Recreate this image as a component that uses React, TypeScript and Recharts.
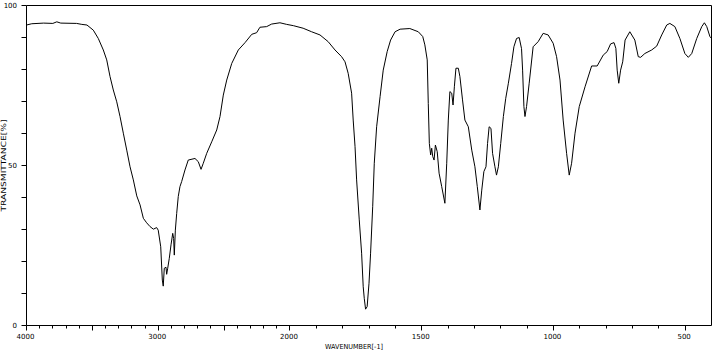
import React from 'react';
import { LineChart, Line, XAxis, YAxis, ReferenceLine } from 'recharts';

// Wavenumber (cm-1), descending
const wavenumbers = [
  4000, 3960, 3870, 3800, 3770, 3740, 3620, 3580, 3541, 3493,
  3455, 3417, 3391, 3366, 3341, 3315, 3290, 3265, 3239, 3214,
  3189, 3163, 3138, 3113, 3088, 3062, 3037, 3012, 3000, 2981,
  2969, 2962, 2954, 2941, 2936, 2928, 2916, 2903, 2890, 2883,
  2878, 2870, 2860, 2848, 2835, 2822, 2797, 2772, 2721, 2696,
  2675, 2658, 2632, 2594, 2556, 2531, 2506, 2480, 2442, 2392,
  2341, 2290, 2253, 2228, 2177, 2139, 2076, 2025, 1987, 1950,
  1918, 1886, 1855, 1829, 1804, 1791, 1779, 1766, 1760, 1753,
  1747, 1737, 1728, 1722, 1718, 1713, 1707, 1700, 1694, 1686,
  1680, 1671, 1658, 1646, 1631, 1618, 1601, 1582, 1545, 1513,
  1496, 1488, 1479, 1475, 1471, 1466, 1462, 1458, 1453, 1448,
  1441, 1434, 1424, 1412, 1405, 1399, 1393, 1386, 1381, 1376,
  1370, 1361, 1355, 1345, 1336, 1323, 1310, 1298, 1289, 1279,
  1272, 1264, 1256, 1250, 1244, 1237, 1231, 1222, 1216, 1209,
  1200, 1190, 1181, 1171, 1159, 1150, 1140, 1130, 1121, 1117,
  1112, 1108, 1102, 1092, 1077, 1058, 1039, 1020, 1001, 988,
  975, 963, 950, 940, 931, 918, 902, 880, 855, 834,
  811, 796, 783, 770, 763, 758, 752, 745, 737, 728,
  710, 691, 678, 669, 653, 627, 608, 589, 570, 558,
  539, 520, 501, 488, 475, 456, 437, 427, 418, 406,
  400,
];

// Transmittance (%)
const transmittance = [
  93.9, 94.3, 94.5, 94.4, 94.9, 94.5, 94.4, 94.1, 93.9, 92.3,
  89.7, 86.1, 83.0, 77.8, 73.6, 69.9, 65.3, 60.1, 54.8, 49.6,
  45.5, 40.5, 37.7, 33.5, 32.1, 30.9, 30.1, 30.6, 29.8, 24.6,
  14.2, 12.3, 17.9, 18.2, 16.0, 17.9, 21.0, 25.2, 28.8, 27.2,
  22.0, 29.8, 35.0, 40.3, 43.4, 45.0, 48.6, 51.7, 52.2, 51.2,
  48.8, 50.7, 53.8, 57.4, 61.1, 65.3, 72.0, 76.7, 81.9, 86.1,
  88.4, 91.0, 91.5, 93.2, 93.4, 94.2, 94.6, 94.1, 93.7, 92.9,
  91.8, 90.8, 88.7, 86.1, 84.0, 82.4, 78.8, 72.6, 64.2, 55.9,
  45.5, 33.0, 22.6, 12.1, 8.5, 5.1, 5.9, 13.2, 22.6, 37.1,
  50.7, 62.1, 71.5, 79.8, 85.6, 89.2, 91.8, 92.6, 92.8, 91.8,
  90.3, 87.7, 83.0, 69.4, 56.9, 53.3, 55.4, 52.8, 51.7, 56.4,
  54.3, 47.6, 43.4, 38.2, 50.7, 64.2, 73.1, 72.6, 68.9, 74.6,
  80.4, 80.4, 77.8, 70.5, 64.2, 62.1, 54.8, 49.6, 43.4, 36.1,
  42.3, 48.1, 49.6, 56.9, 62.1, 61.6, 53.8, 49.6, 47.0, 49.6,
  56.9, 65.3, 71.0, 75.7, 81.9, 87.1, 89.7, 90.0, 86.5, 79.8,
  68.4, 65.3, 68.4, 75.7, 87.1, 88.7, 91.3, 90.8, 88.2, 84.0,
  76.7, 64.2, 53.8, 47.0, 50.7, 60.1, 68.4, 74.6, 81.1, 81.1,
  84.5, 85.6, 88.0, 88.4, 86.6, 79.8, 75.7, 79.8, 82.4, 89.2,
  91.8, 89.2, 84.0, 83.8, 85.0, 86.1, 87.3, 90.8, 93.9, 94.4,
  93.4, 89.7, 85.0, 83.8, 85.0, 89.7, 93.4, 94.6, 93.4, 90.3,
  89.7,
];

const xTickWavenumbers = [
  4000, 3900, 3800, 3700, 3600, 3500, 3400, 3300, 3200, 3100,
  3000, 2900, 2800, 2700, 2600, 2500, 2400, 2300, 2200, 2100,
  2000, 1900, 1800, 1700, 1600, 1500, 1400, 1300, 1200, 1100,
  1000, 900, 800, 700, 600, 500,
];
const xLabelWavenumbers = [4000, 3000, 2000, 1500, 1000, 500];
const yTicks = [0, 10, 20, 30, 40, 50, 60, 70, 80, 90, 100];
const yLabels = [0, 50, 100];

const xTitle = 'WAVENUMBER[-1]';
const yTitle = 'TRANSMITTANCE[%]';

// the spectrum's axis is compressed by a factor 2 above 2000 cm-1
const toAxis = (w: number) => (w > 2000 ? 2000 + (w - 2000) / 2 : w);
const fromAxis = (u: number) => (u > 2000 ? 2000 + (u - 2000) * 2 : u);

const data = wavenumbers.map((w, i) => ({ u: toAxis(w), t: transmittance[i] }));
const xTicks = xTickWavenumbers.map(toAxis);

const FONT = 'DejaVu Sans, sans-serif';

const XTick = (props: any) => {
  const { x, y, payload } = props;
  const w = Math.round(fromAxis(payload.value));
  const major = w % 500 === 0;
  const px = Math.floor(x) + 0.5;
  return (
    <g>
      <line x1={px} x2={px} y1={y} y2={y + (major ? 5 : 3)} stroke="#000" strokeWidth={1} />
      {xLabelWavenumbers.includes(w) && (
        <text x={x - 1} y={y + 13.5} textAnchor="middle" fontSize={7} fontFamily={FONT} fill="#000">
          {w}
        </text>
      )}
    </g>
  );
};

const YTick = (props: any) => {
  const { x, y, payload } = props;
  const v = payload.value;
  return (
    <g>
      <line x1={x - 5} x2={x} y1={y} y2={y} stroke="#000" strokeWidth={1} />
      {yLabels.includes(v) && (
        <text x={x - 9.5} y={y + 2.5} textAnchor="end" fontSize={7} fontFamily={FONT} fill="#000">
          {v}
        </text>
      )}
    </g>
  );
};

const renderXTitle = (props: any) => {
  const vb = props.viewBox || {};
  return (
    <text
      x={vb.x + vb.width / 2 - 15}
      y={vb.y + 23.5}
      textAnchor="middle"
      fontSize={7}
      fontFamily={FONT}
      fill="#000"
      textLength={58}
      lengthAdjust="spacingAndGlyphs"
    >
      {xTitle}
    </text>
  );
};

const renderYTitle = (props: any) => {
  const vb = props.viewBox || {};
  const cx = vb.x + 5.5;
  const cy = vb.y + vb.height / 2;
  return (
    <text
      x={cx}
      y={cy}
      textAnchor="middle"
      fontSize={7}
      fontFamily={FONT}
      fill="#000"
      textLength={92}
      lengthAdjust="spacingAndGlyphs"
      transform={`rotate(-90, ${cx}, ${cy})`}
    >
      {yTitle}
    </text>
  );
};

export default function App() {
  return (
    <div style={{ position: 'absolute', left: 0, top: 0, width: 712, height: 354, background: '#fff' }}>
      <LineChart width={712} height={354} data={data} margin={{ top: 5.5, right: 0.5, bottom: 0, left: 0 }}>
        <XAxis
          dataKey="u"
          type="number"
          domain={[400, 3000]}
          reversed
          allowDataOverflow
          ticks={xTicks}
          interval={0}
          tickSize={0}
          tickMargin={0}
          tickLine={false}
          tick={<XTick />}
          height={28.5}
          axisLine={{ stroke: '#000', strokeWidth: 1 }}
          label={renderXTitle}
        />
        <YAxis
          type="number"
          domain={[0, 100]}
          ticks={yTicks}
          interval={0}
          tickSize={0}
          tickMargin={0}
          tickLine={false}
          tick={<YTick />}
          width={26.5}
          axisLine={{ stroke: '#000', strokeWidth: 1 }}
          label={renderYTitle}
        />
        <ReferenceLine y={100} stroke="#000" strokeWidth={1} />
        <ReferenceLine x={400} stroke="#000" strokeWidth={1} />
        <Line
          dataKey="t"
          type="linear"
          stroke="#000"
          strokeWidth={1}
          dot={false}
          activeDot={false}
          isAnimationActive={false}
        />
      </LineChart>
    </div>
  );
}
